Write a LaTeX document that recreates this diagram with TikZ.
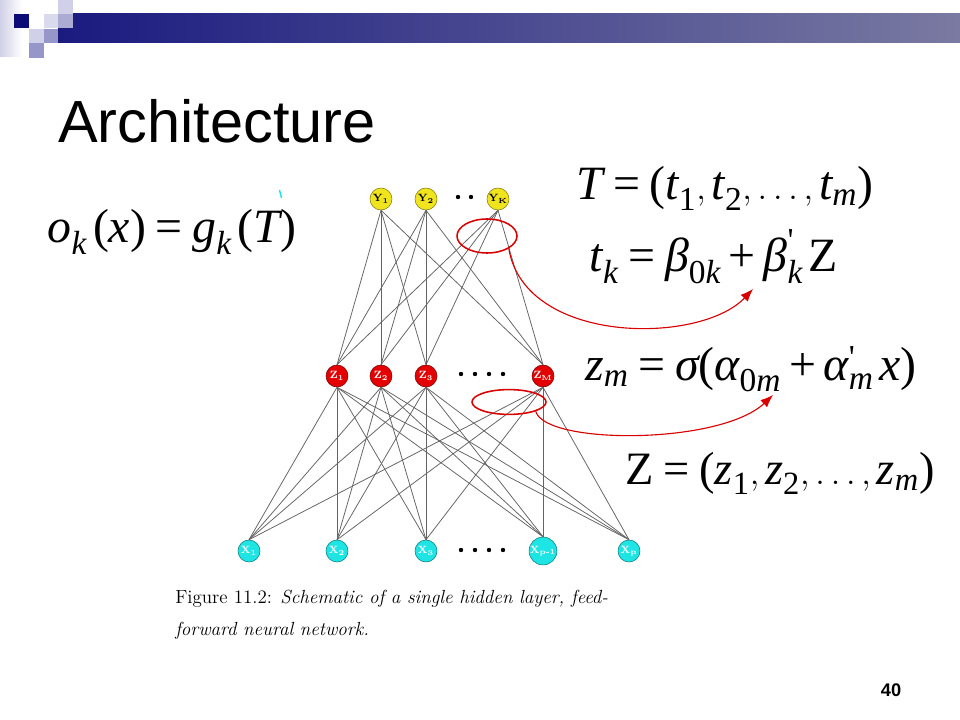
\documentclass[tikz,border=0pt]{standalone}
\usepackage{amsmath}
\usepackage{fontspec}
\newfontfamily\slidefont{Liberation Sans}
\newfontfamily\eqfont{Liberation Serif}
\usetikzlibrary{arrows.meta,shapes.geometric}
\definecolor{barnavy}{RGB}{26,26,128}
\definecolor{bargrey}{RGB}{122,122,162}
\definecolor{sqdark}{RGB}{12,12,118}
\definecolor{sqmid}{RGB}{150,150,200}
\definecolor{sqlight}{RGB}{208,208,232}
\definecolor{outyellow}{RGB}{240,228,30}
\definecolor{hidred}{RGB}{228,0,0}
\definecolor{incyan}{RGB}{30,228,228}
\definecolor{wiregrey}{RGB}{100,100,100}
\tikzset{
  unit/.style={circle,draw=#1!55!black,fill=#1,minimum size=0.55cm,inner sep=0pt,
    font=\fontsize{7.5}{7.5}\selectfont\bfseries},
  wire/.style={draw=wiregrey,line width=0.55pt},
  ring/.style={ellipse,draw=red!85!black,line width=1.1pt,inner sep=0pt},
  eq/.style={anchor=base,font=\eqfont\fontsize{#1}{#1}\selectfont}
}
\newcommand{\tile}[3]{\fill[#3] (#1,#2) rectangle ++(14.5,14.5);}
\newcommand{\mi}[1]{\text{\itshape #1}}
\newcommand{\up}[1]{\text{#1}}
\newcommand{\eqs}{\mathrel{\text{=}}}
\newcommand{\pls}{\mathbin{\text{+}}}

\begin{document}
\begin{tikzpicture}[x=0.025cm,y=-0.025cm]
\useasboundingbox (0,0) rectangle (960,720);
\shade[left color=sqlight,right color=white] (0,0) rectangle (22,57);
\shade[left color=barnavy,right color=bargrey] (58,14) rectangle (960,43);
\tile{58}{0}{sqlight}\tile{14}{14}{sqdark}\tile{43.5}{14}{sqlight!80!white}
\tile{58}{14}{sqmid!80!white}\tile{29}{29}{sqlight}\tile{43.5}{29}{sqmid}
\tile{29}{43.5}{sqmid}
\node[anchor=base west,font=\slidefont\fontsize{42.3}{44}\selectfont,inner sep=0pt] (title) at (58,143) {Architecture};

\node[unit=outyellow] (y1) at (381,199) {Y\textsubscript{1}};
\node[unit=outyellow] (y2) at (426,199) {Y\textsubscript{2}};
\node[unit=outyellow] (yk) at (498,199) {Y\textsubscript{K}};
\node[unit=hidred,text=white] (z1) at (337,376) {Z\textsubscript{1}};
\node[unit=hidred,text=white] (z2) at (381,376) {Z\textsubscript{2}};
\node[unit=hidred,text=white] (z3) at (426,376) {Z\textsubscript{3}};
\node[unit=hidred,text=white] (zm) at (543,376) {Z\textsubscript{M}};
\node[unit=incyan,text=white] (x1) at (249,551) {X\textsubscript{1}};
\node[unit=incyan,text=white] (x2) at (337,551) {X\textsubscript{2}};
\node[unit=incyan,text=white] (x3) at (426,551) {X\textsubscript{3}};
\node[unit=incyan,text=white] (xp1) at (543,551) {X\textsubscript{p-1}};
\node[unit=incyan,text=white] (xp) at (629,551) {X\textsubscript{p}};
\foreach \a in {y1,y2,yk}
  \foreach \b in {z1,z2,z3,zm}
    \draw[wire] (\a.south) -- (\b.north);
\foreach \a in {z1,z2,z3,zm}
  \foreach \b in {x1,x2,x3,xp1,xp}
    \draw[wire] (\a.south) -- (\b.north);
\foreach \x in {458,471} \fill (\x,197) circle (2.2);
\foreach \x in {461,475,489,503} \fill (\x,374) circle (2.2);
\foreach \x in {461,475,489,503} \fill (\x,550) circle (2.2);

\node[ring,minimum width=1.5cm,minimum height=0.85cm] (ring1) at (487,236) {};
\node[ring,minimum width=1.85cm,minimum height=0.62cm] (ring2) at (509,402) {};

\node[eq=34] (oeq) at (172,243) {$\mi{o}_{\mi{k}}\,\up{(}\mi{x}\up{)} \eqs \mi{g}_{\mi{k}}\,\up{(}\mi{T}\up{)}$};
\node[eq=34] (teq) at (725,200) {$\mi{T} \eqs \up{(}\mi{t}_{\up{1}}, \mi{t}_{\up{2}}, \ldots, \mi{t}_{\mi{m}}\up{)}$};
\node[eq=34] (tkeq) at (714,272) {$\mi{t}_{\mi{k}} \eqs \mi{β}_{\up{0}\mi{k}} \pls \mi{β}_{\mi{k}}^{\up{'}}\,\up{Z}$};
\node[eq=34] (zmeq) at (751,381) {$\mi{z}_{\mi{m}} \eqs \mi{σ}\up{(}\mi{α}_{\up{0}\mi{m}} \pls \mi{α}^{\up{'}}_{\mi{m}}\,\mi{x}\up{)}$};
\node[eq=33] (zeq) at (780,485) {$\up{Z} \eqs \up{(}\mi{z}_{\up{1}}, \mi{z}_{\up{2}}, \ldots, \mi{z}_{\mi{m}}\up{)}$};
\coordinate (tip1) at (753,289);
\coordinate (tip2) at (773,395);
\draw[red!85!black,line width=0.8pt,-{Latex[length=9pt,width=7pt]}]
  (ring1.south east) .. controls (525,345) and (700,345) .. (tip1);
\draw[red!85!black,line width=0.8pt,-{Latex[length=9pt,width=7pt]}]
  (ring2.south east) .. controls (545,445) and (720,445) .. (tip2);
\draw[incyan,line width=1pt] (279.5,190) -- (281.5,198);

\node[anchor=base west,align=left,inner sep=0pt,font=\fontsize{13.5}{22.7}\selectfont] (caption) at (175,635)
  {Figure 11.2: \textit{Schematic of a single hidden layer, feed-}\\\textit{forward neural network.}};
\node[font=\slidefont\bfseries\fontsize{13}{13}\selectfont] (page) at (891,690) {40};
\end{tikzpicture}
\end{document}
